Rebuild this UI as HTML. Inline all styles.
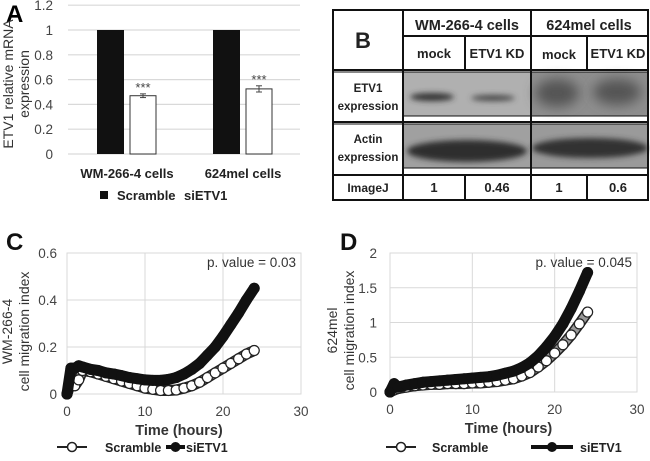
<!DOCTYPE html>
<html><head><meta charset="utf-8"><style>
html,body{margin:0;padding:0;background:#fff;}
svg{display:block;font-family:"Liberation Sans",Arial,sans-serif;}
</style></head><body>
<svg id="fig" width="650" height="461" viewBox="0 0 650 461">
<defs>
<filter id="blur3" x="-30%" y="-100%" width="160%" height="300%"><feGaussianBlur stdDeviation="3"/></filter>
<filter id="blur6" x="-30%" y="-100%" width="160%" height="300%"><feGaussianBlur stdDeviation="6"/></filter>
</defs>
<!-- Panel A -->
<g id="panelA">
<text x="6" y="22" font-size="24" font-weight="bold">A</text>
<text transform="translate(13,84) rotate(-90)" text-anchor="middle" font-size="14" fill="#333">ETV1 relative mRNA</text>
<text transform="translate(29,84) rotate(-90)" text-anchor="middle" font-size="14" fill="#333">expression</text>
<rect x="100" y="191" width="8" height="8" fill="#111"/>
<text x="117" y="200" font-size="13" font-weight="bold" fill="#222">Scramble</text>
<text x="184" y="200" font-size="13" font-weight="bold" fill="#222">siETV1</text>
</g>
<!-- Panel B -->
<g id="panelB">
<rect x="403" y="72" width="128" height="44" fill="#b0b0b0"/>
<rect x="531" y="72" width="117" height="44" fill="#8e8e8e"/>
<ellipse cx="432" cy="97" rx="22" ry="4" fill="#333" filter="url(#blur3)"/>
<ellipse cx="493" cy="98" rx="22" ry="3" fill="#444" filter="url(#blur3)"/>
<ellipse cx="557" cy="93" rx="22" ry="14" fill="#555" filter="url(#blur6)"/>
<ellipse cx="617" cy="92" rx="24" ry="13" fill="#555" filter="url(#blur6)"/>
<rect x="403" y="124" width="128" height="44" fill="#a0a0a0"/>
<rect x="531" y="124" width="117" height="44" fill="#9a9a9a"/>
<ellipse cx="467" cy="151" rx="60" ry="11" fill="#2e2e2e" filter="url(#blur3)"/>
<ellipse cx="590" cy="148" rx="58" ry="10" fill="#333" filter="url(#blur3)"/>
<g stroke="#111" fill="none" stroke-width="2">
<rect x="333" y="10" width="315" height="190"/>
<line x1="403" y1="10" x2="403" y2="200"/>
<line x1="531" y1="10" x2="531" y2="200"/>
<line x1="465" y1="36" x2="465" y2="70"/><line x1="587" y1="36" x2="587" y2="70"/>
<line x1="465" y1="175" x2="465" y2="200"/><line x1="587" y1="175" x2="587" y2="200"/>
<line x1="403" y1="36" x2="648" y2="36"/>
<line x1="333" y1="70" x2="648" y2="70"/>
<line x1="333" y1="72" x2="648" y2="72" stroke-width="1"/>
<line x1="403" y1="116" x2="648" y2="116" stroke-width="1"/>
<line x1="333" y1="122" x2="648" y2="122"/>
<line x1="333" y1="124" x2="648" y2="124" stroke-width="1"/>
<line x1="403" y1="168" x2="648" y2="168" stroke-width="1"/>
<line x1="333" y1="175" x2="648" y2="175"/>
</g>
<g font-size="13" font-weight="bold" fill="#222" text-anchor="middle">
<text x="363" y="48" font-size="22">B</text>
<text x="467" y="30" font-size="14.5">WM-266-4 cells</text>
<text x="589" y="30" font-size="14.5">624mel cells</text>
<text x="434" y="58">mock</text>
<text x="497" y="58">ETV1 KD</text>
<text x="559" y="59">mock</text>
<text x="618" y="58">ETV1 KD</text>
<text x="368" y="92" font-size="11.5">ETV1</text>
<text x="368" y="110" font-size="11.5">expression</text>
<text x="368" y="143" font-size="11.5">Actin</text>
<text x="368" y="161" font-size="11.5">expression</text>
<text x="368" y="192" font-size="12">ImageJ</text>
<text x="434" y="192">1</text><text x="497" y="192">0.46</text>
<text x="559" y="192">1</text><text x="618" y="192">0.6</text>
</g>
</g>
<!-- Panels C and D -->
<g id="panelC"></g>
<g id="panelD"></g>
</svg>
<script>
// ---------- Panel A data ----------
const aCategories = ["WM-266-4 cells", "624mel cells"];
const aScramble = [1, 1];
const aSiETV1 = [0.47, 0.525];
const aErr = [0.015, 0.025];
const aTicks = [0, 0.2, 0.4, 0.6, 0.8, 1, 1.2];

// ---------- Panel C data ----------
const cTime = [0,0.5,1,1.5,2,3,4,5,6,7,8,9,10,11,12,13,14,15,16,17,18,19,20,21,22,23,24];
const cScramble = [0,0.05,0.035,0.06,0.1,0.095,0.085,0.075,0.065,0.055,0.045,0.035,0.025,0.02,0.015,0.015,0.017,0.025,0.035,0.05,0.07,0.09,0.11,0.13,0.15,0.17,0.185];
const cSiETV1 = [0,0.11,0.11,0.12,0.115,0.105,0.1,0.09,0.085,0.078,0.07,0.065,0.06,0.058,0.058,0.062,0.07,0.085,0.105,0.13,0.165,0.2,0.245,0.295,0.345,0.4,0.45];
const cYTicks = [0, 0.2, 0.4, 0.6];
const cXTicks = [0, 10, 20, 30];

// ---------- Panel D data ----------
const dTime = [0,0.5,1,2,3,4,5,6,7,8,9,10,11,12,13,14,15,16,17,18,19,20,21,22,23,24];
const dScramble = [0,0.03,0.05,0.07,0.09,0.1,0.11,0.11,0.12,0.12,0.12,0.13,0.13,0.14,0.15,0.17,0.19,0.23,0.28,0.36,0.45,0.56,0.68,0.82,0.98,1.15];
const dSiETV1 = [0,0.12,0.07,0.1,0.12,0.14,0.15,0.16,0.17,0.18,0.19,0.2,0.21,0.22,0.24,0.27,0.3,0.35,0.42,0.52,0.65,0.8,0.98,1.2,1.45,1.72];
const dYTicks = [0, 0.5, 1, 1.5, 2];
const dYLabels = ["0", "0.5", "1", "1.5", "2"];
const dXTicks = [0, 10, 20, 30];

const NS = "http://www.w3.org/2000/svg";
function mk(tag, attrs, parent, text) {
  const e = document.createElementNS(NS, tag);
  for (const k in attrs) e.setAttribute(k, attrs[k]);
  if (text !== undefined) e.textContent = text;
  parent.appendChild(e);
  return e;
}

// ---------- Panel A ----------
(function () {
  const g = document.getElementById('panelA');
  const y = v => 154 - v * 124;
  const groupX = [97, 213];
  aTicks.forEach(t => {
    const ln = mk('line', {x1: 68, x2: 300, y1: y(t), y2: y(t), stroke: '#d9d9d9', 'stroke-width': 1.2}, g);
    
    
    const tx = mk('text', {x: 53, y: y(t) + 5, 'text-anchor': 'end', 'font-size': 13.5, fill: '#444'}, g, String(t));
    
    
  });
  aCategories.forEach((c, i) => {
    const x0 = groupX[i];
    const b1 = mk('rect', {x: x0, y: y(aScramble[i]), width: 27, height: y(0) - y(aScramble[i]), fill: '#111'}, g);
    
    
    const b2 = mk('rect', {x: x0 + 33, y: y(aSiETV1[i]), width: 26, height: y(0) - y(aSiETV1[i]), fill: '#fff', stroke: '#333', 'stroke-width': 1}, g);
    
    
    const cx = x0 + 46;
    const yt = y(aSiETV1[i] + aErr[i]), yb = y(aSiETV1[i] - aErr[i]);
    mk('line', {x1: cx, x2: cx, y1: yt, y2: yb, stroke: '#444'}, g);
    mk('line', {x1: cx - 3, x2: cx + 3, y1: yt, y2: yt, stroke: '#444'}, g);
    mk('line', {x1: cx - 3, x2: cx + 3, y1: yb, y2: yb, stroke: '#444'}, g);
    const st = mk('text', {x: cx, y: yt - 2, 'text-anchor': 'middle', 'font-size': 13, fill: '#444'}, g, '***');
    
    
    const cl = mk('text', {x: x0 + 30, y: 178, 'text-anchor': 'middle', 'font-size': 13, 'font-weight': 'bold', fill: '#222'}, g, c);
    
    
  });
})();

// ---------- Line charts ----------
function lineChart(g, o) {
  const x = v => o.left + (v - 0) / 30 * (o.right - o.left);
  const y = v => o.bottom - v / o.ymax * (o.bottom - o.top);
  o.yTicks.forEach((t, i) => {
    const ln = mk('line', {x1: o.left, x2: o.right, y1: y(t), y2: y(t), stroke: '#d9d9d9'}, g);
    
    
    const tx = mk('text', {x: o.left - o.tickGap, y: y(t) + 5, 'text-anchor': 'end', 'font-size': 13.5, fill: '#444'}, g, o.yLabels ? o.yLabels[i] : String(t));
    
    
  });
  o.xTicks.forEach(t => {
    const ln = mk('line', {x1: x(t), x2: x(t), y1: o.top, y2: o.bottom, stroke: '#d9d9d9'}, g);
    
    
    const tx = mk('text', {x: x(t), y: o.bottom + 22, 'text-anchor': 'middle', 'font-size': 13.5, fill: '#444'}, g, String(t));
    
    
  });
  mk('rect', {x: o.left, y: o.top, width: o.right - o.left, height: o.bottom - o.top, fill: 'none', stroke: '#d9d9d9'}, g);
  const pts = (ts, vs) => ts.map((t, i) => x(t) + ',' + y(vs[i])).join(' ');
  // scramble
  const sp = pts(o.time, o.scr);
  mk('polyline', {points: sp, fill: 'none', stroke: '#222', 'stroke-width': 11, 'stroke-linejoin': 'round', 'stroke-linecap': 'round'}, g);
  const sl = mk('polyline', {points: sp, fill: 'none', stroke: '#999', 'stroke-width': 8, 'stroke-linejoin': 'round', 'stroke-linecap': 'round'}, g);
  
  
  o.time.forEach((t, i) => {
    const c = mk('circle', {cx: x(t), cy: y(o.scr[i]), r: 5, fill: '#fff', stroke: '#222', 'stroke-width': 1.2}, g);
    
    
  });
  // siETV1
  const kp = pts(o.time, o.si);
  const kl = mk('polyline', {points: kp, fill: 'none', stroke: '#111', 'stroke-width': 11, 'stroke-linejoin': 'round', 'stroke-linecap': 'round'}, g);
  
  
  o.time.forEach((t, i) => {
    const c = mk('circle', {cx: x(t), cy: y(o.si[i]), r: 5.5, fill: '#111'}, g);
    
    
  });
  // texts
  const pl = mk('text', {x: o.letterX, y: o.top - 3, 'font-size': 24, 'font-weight': 'bold', fill: '#111'}, g, o.letter);
  
  
  const pv = mk('text', {x: o.right - 5, y: o.top + 14, 'text-anchor': 'end', 'font-size': 13.5, fill: '#333'}, g, o.pval);
  
  
  const xt = mk('text', {x: (o.left + o.right) / 2 - 5, y: o.bottom + 41, 'text-anchor': 'middle', 'font-size': 14.5, 'font-weight': 'bold', fill: '#333'}, g, 'Time (hours)');
  
  
  const cy = (o.top + o.bottom) / 2 + 8;
  const y1 = mk('text', {transform: `translate(${o.yt1},${cy}) rotate(-90)`, 'text-anchor': 'middle', 'font-size': 14, fill: '#333'}, g, o.ytitle1);
  
  
  const y2 = mk('text', {transform: `translate(${o.yt1 + 17},${cy}) rotate(-90)`, 'text-anchor': 'middle', 'font-size': 14, fill: '#333'}, g, 'cell migration index');
  
  
  // legend
  const L = o.leg;
  mk('line', {x1: L[0], x2: L[0] + 30, y1: 447, y2: 447, stroke: '#222', 'stroke-width': 2}, g);
  const lc = mk('circle', {cx: L[0] + 15, cy: 447, r: 4.5, fill: '#fff', stroke: '#222', 'stroke-width': 1.5}, g);
  
  
  const lt = mk('text', {x: L[1], y: 452, 'font-size': 12.5, 'font-weight': 'bold', fill: '#222'}, g, 'Scramble');
  
  
  mk('line', {x1: L[2], x2: L[2] + L[3], y1: 447, y2: 447, stroke: '#111', 'stroke-width': 4}, g);
  const lc2 = mk('circle', {cx: L[2] + L[3] / 2, cy: 447, r: 5, fill: '#111'}, g);
  
  
  const lt2 = mk('text', {x: L[4], y: 452, 'font-size': 12.5, 'font-weight': 'bold', fill: '#222'}, g, 'siETV1');
  
  
}
lineChart(document.getElementById('panelC'), {left: 67, right: 301, top: 253, bottom: 394, ymax: 0.6, tickGap: 10,
  yTicks: cYTicks, xTicks: cXTicks, time: cTime, scr: cScramble, si: cSiETV1, letterX: 6,
  letter: 'C', pval: 'p. value = 0.03', ytitle1: 'WM-266-4', yt1: 12, leg: [57, 105, 166, 19, 186]});
lineChart(document.getElementById('panelD'), {left: 390, right: 637, top: 253, bottom: 392, ymax: 2, tickGap: 13,
  yTicks: dYTicks, yLabels: dYLabels, xTicks: dXTicks, time: dTime, scr: dScramble, si: dSiETV1, letterX: 340,
  letter: 'D', pval: 'p. value = 0.045', ytitle1: '624mel', yt1: 337, leg: [386, 432, 531, 42, 580]});
</script>
</body></html>
